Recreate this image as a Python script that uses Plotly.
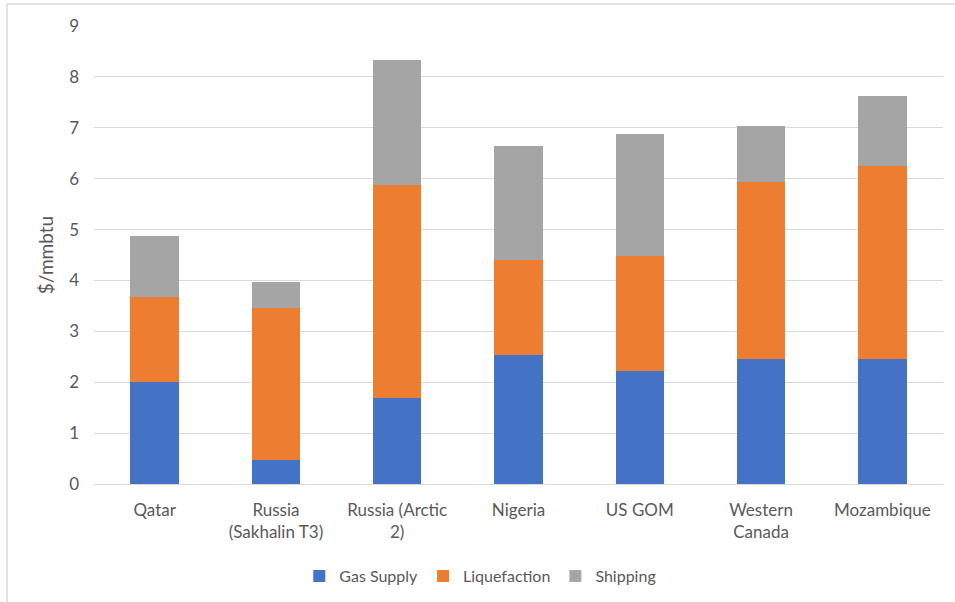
import plotly.graph_objects as go

categories = ["Qatar", "Russia<br>(Sakhalin T3)", "Russia (Arctic<br>2)", "Nigeria",
              "US GOM", "Western<br>Canada", "Mozambique"]
gas_supply = [2.0, 0.48, 1.69, 2.54, 2.23, 2.45, 2.45]
liquefaction = [1.67, 2.98, 4.18, 1.87, 2.26, 3.49, 3.80]
shipping = [1.2, 0.5, 2.46, 2.24, 2.38, 1.09, 1.37]

series_names = ["Gas Supply", "Liquefaction", "Shipping"]
colors = ["#4472C4", "#ED7D31", "#A5A5A5"]

FONT = "Lato, Liberation Sans, sans-serif"
TXT = "#595959"

fig = go.Figure()
for name, vals, col in zip(series_names, [gas_supply, liquefaction, shipping], colors):
    fig.add_trace(go.Bar(x=categories, y=vals, name=name, marker_color=col,
                         marker_line_width=0))

L, R, T, B = 94, 12, 26, 118
W, H = 955, 602
pw, ph = W - L - R, H - T - B
bx = (7 - L) / pw
by = (H - B - 4) / ph

fig.update_layout(
    width=W, height=H,
    barmode="stack", bargap=0.6,
    margin=dict(l=L, r=R, t=T, b=B),
    plot_bgcolor="white", paper_bgcolor="white",
    font=dict(family=FONT, size=17, color=TXT),
    yaxis=dict(range=[0, 9], dtick=1, showgrid=True, gridcolor="#D9D9D9", gridwidth=1,
               zeroline=True, zerolinecolor="#D9D9D9", zerolinewidth=1,
               showline=False, ticks="", ticklabelstandoff=14, automargin=False,
               title=dict(text="$/mmbtu", font=dict(size=19, color=TXT), standoff=10),
               tickfont=dict(size=17, color=TXT)),
    xaxis=dict(showgrid=False, showline=False, ticks="", tickfont=dict(size=17, color=TXT),
               ticklabelstandoff=14, automargin=False),
    legend=dict(orientation="h", x=0.455, xanchor="center", yref="container",
                y=(H - 576) / H, yanchor="middle",
                font=dict(size=16, color=TXT), traceorder="normal", itemwidth=30),
    showlegend=True,
    shapes=[
        dict(type="line", xref="paper", yref="paper", x0=bx, x1=bx, y0=-0.5, y1=by,
             line=dict(color="#D9D9D9", width=1.5)),
        dict(type="line", xref="paper", yref="paper", x0=bx, x1=1.1, y0=by, y1=by,
             line=dict(color="#D9D9D9", width=1.5)),
    ],
)

fig.write_html("out.html")
